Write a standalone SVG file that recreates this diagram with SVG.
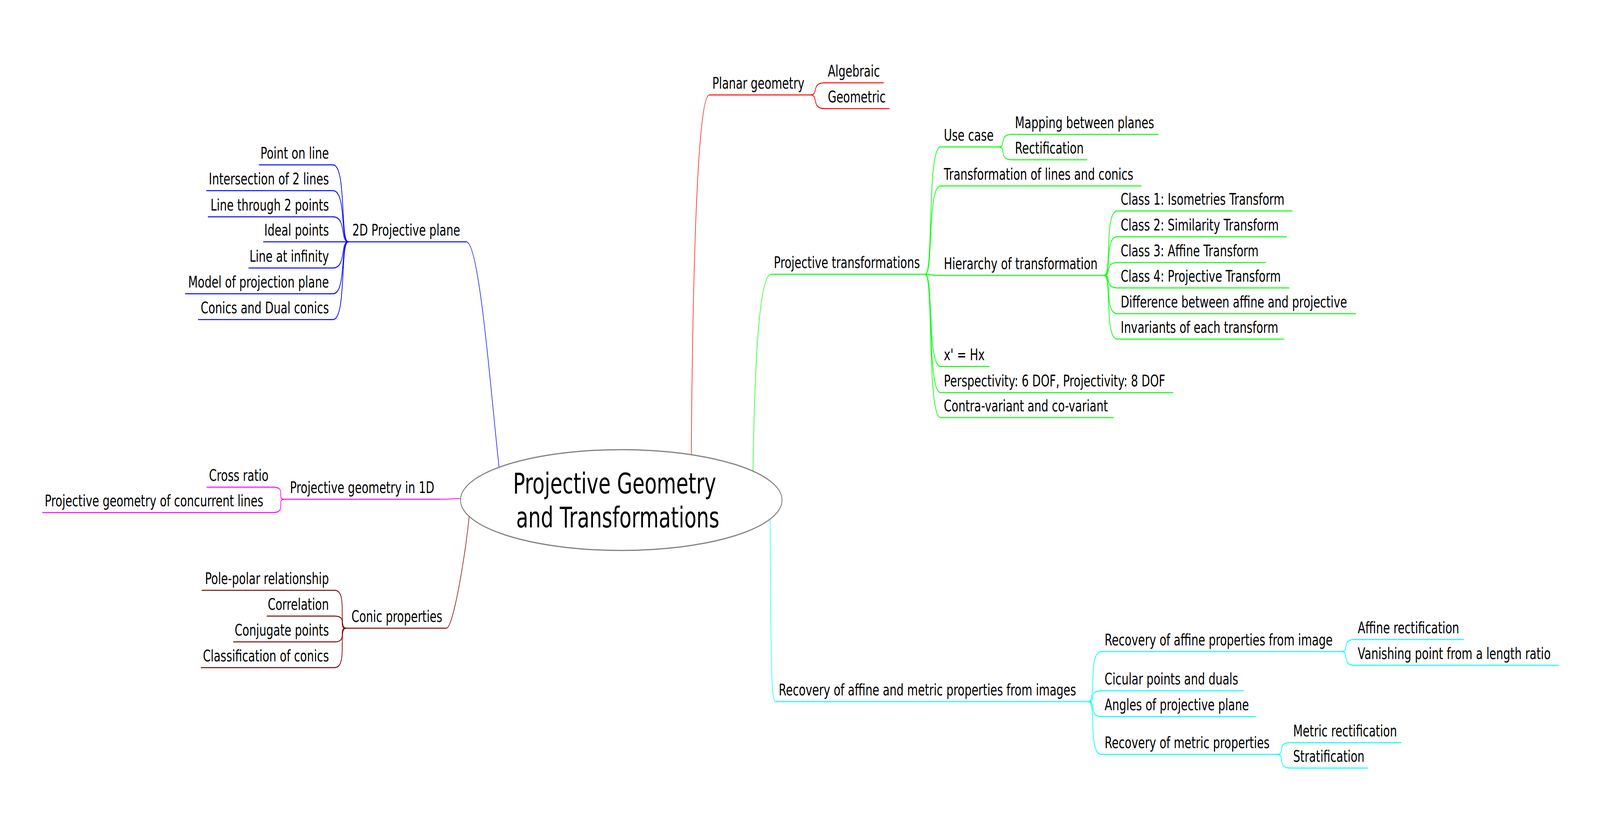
<svg xmlns="http://www.w3.org/2000/svg" width="5872" height="2122" viewBox="0 0 5872 2122" preserveAspectRatio="none">
<style>
:root{width:100vw;height:100vh}
text{font-family:"DejaVu Sans","Liberation Sans",sans-serif;font-size:40.7px;fill:#000}
text.rt{font-size:73px}
text.e{text-anchor:end}
path,line{fill:none;stroke-linecap:round}
.r{stroke:#ff0000}.g{stroke:#00ff00}.c{stroke:#00ffff}.b{stroke:#0000ff}.m{stroke:#ff00ff}.k{stroke:#800000}
#connectors path{stroke-width:2.5}
#connectors path.re{stroke-width:2}
line{stroke-width:2.5}
</style>
<rect width="5872" height="2122" fill="#fff"/>
<g id="connectors">
<path class="r re" d="M2537 1180 C2540 850 2553 243 2603 243"/>
<path class="g re" d="M2763 1215 C2768 1000 2780 702 2830 702"/>
<path class="c re" d="M2826 1320 C2830 1600 2826 1796 2846 1796"/>
<path class="b re" d="M1833 1205 C1800 1000 1760 619 1711 619"/>
<path class="m re" d="M1700 1276 C1660 1276 1656 1278 1616 1278"/>
<path class="k re" d="M1722 1320 C1712 1400 1665 1608 1638 1608"/>
<path class="r" d="M2975 243 C3005 243 2976 212 3026 212"/>
<path class="r" d="M2975 243 C3005 243 2976 278 3026 278"/>
<path class="g" d="M3396 702 C3426 702 3402 376 3452 376"/>
<path class="g" d="M3396 702 C3426 702 3402 476 3452 476"/>
<path class="g" d="M3396 702 C3426 702 3402 705 3452 705"/>
<path class="g" d="M3396 702 C3426 702 3402 938 3452 938"/>
<path class="g" d="M3396 702 C3426 702 3402 1005 3452 1005"/>
<path class="g" d="M3396 702 C3426 702 3402 1069 3452 1069"/>
<path class="g" d="M3665 376 C3695 376 3663 344 3713 344"/>
<path class="g" d="M3665 376 C3695 376 3663 409 3713 409"/>
<path class="g" d="M4052 705 C4082 705 4051 540 4101 540"/>
<path class="g" d="M4052 705 C4082 705 4051 606 4101 606"/>
<path class="g" d="M4052 705 C4082 705 4051 672 4101 672"/>
<path class="g" d="M4052 705 C4082 705 4051 737 4101 737"/>
<path class="g" d="M4052 705 C4082 705 4051 803 4101 803"/>
<path class="g" d="M4052 705 C4082 705 4051 868 4101 868"/>
<path class="c" d="M3995 1796 C4025 1796 3992 1668 4042 1668"/>
<path class="c" d="M3995 1796 C4025 1796 3992 1768 4042 1768"/>
<path class="c" d="M3995 1796 C4025 1796 3992 1834 4042 1834"/>
<path class="c" d="M3995 1796 C4025 1796 3992 1931 4042 1931"/>
<path class="c" d="M4924 1668 C4954 1668 4921 1637 4971 1637"/>
<path class="c" d="M4924 1668 C4954 1668 4921 1703 4971 1703"/>
<path class="c" d="M4688 1931 C4718 1931 4684 1901 4734 1901"/>
<path class="c" d="M4688 1931 C4718 1931 4684 1966 4734 1966"/>
<path class="b" d="M1278 619 C1248 619 1272 422 1222 422"/>
<path class="b" d="M1278 619 C1248 619 1272 488 1222 488"/>
<path class="b" d="M1278 619 C1248 619 1272 555 1222 555"/>
<path class="b" d="M1278 619 C1248 619 1272 619 1222 619"/>
<path class="b" d="M1278 619 C1248 619 1272 686 1222 686"/>
<path class="b" d="M1278 619 C1248 619 1272 752 1222 752"/>
<path class="b" d="M1278 619 C1248 619 1272 818 1222 818"/>
<path class="m" d="M1043 1278 C1013 1278 1053 1247 1003 1247"/>
<path class="m" d="M1043 1278 C1013 1278 1053 1312 1003 1312"/>
<path class="k" d="M1269 1608 C1239 1608 1278 1511 1228 1511"/>
<path class="k" d="M1269 1608 C1239 1608 1278 1577 1228 1577"/>
<path class="k" d="M1269 1608 C1239 1608 1278 1643 1228 1643"/>
<path class="k" d="M1269 1608 C1239 1608 1278 1709 1228 1709"/>
</g>
<g id="root">
<ellipse cx="2280" cy="1280" rx="590" ry="129" fill="#fff" stroke="#808080" stroke-width="3"/>
<text class="rt" x="1883" y="1263">Projective Geometry</text>
<text class="rt" x="1894" y="1350">and Transformations</text>
</g>
<g id="n-planar"><line class="r" x1="2603" y1="243" x2="2975" y2="243"/><text x="2614" y="227">Planar geometry</text></g>
<g id="n-algebraic"><line class="r" x1="3026" y1="212" x2="3242" y2="212"/><text x="3038" y="196">Algebraic</text></g>
<g id="n-geometric"><line class="r" x1="3026" y1="278" x2="3264" y2="278"/><text x="3038" y="262">Geometric</text></g>
<g id="n-projtrans"><line class="g" x1="2830" y1="702" x2="3396" y2="702"/><text x="2840" y="686">Projective transformations</text></g>
<g id="n-usecase"><line class="g" x1="3452" y1="376" x2="3665" y2="376"/><text x="3464" y="360">Use case</text></g>
<g id="n-mapping"><line class="g" x1="3713" y1="344" x2="4251" y2="344"/><text x="3725" y="328">Mapping between planes</text></g>
<g id="n-rectification"><line class="g" x1="3713" y1="409" x2="3989" y2="409"/><text x="3725" y="393">Rectification</text></g>
<g id="n-translc"><line class="g" x1="3452" y1="476" x2="4188" y2="476"/><text x="3464" y="460">Transformation of lines and conics</text></g>
<g id="n-hierarchy"><line class="g" x1="3452" y1="705" x2="4052" y2="705"/><text x="3464" y="689">Hierarchy of transformation</text></g>
<g id="n-class1"><line class="g" x1="4101" y1="540" x2="4743" y2="540"/><text x="4113" y="524">Class 1: Isometries Transform</text></g>
<g id="n-class2"><line class="g" x1="4101" y1="606" x2="4722" y2="606"/><text x="4113" y="590">Class 2: Similarity Transform</text></g>
<g id="n-class3"><line class="g" x1="4101" y1="672" x2="4645" y2="672"/><text x="4113" y="656">Class 3: Affine Transform</text></g>
<g id="n-class4"><line class="g" x1="4101" y1="737" x2="4731" y2="737"/><text x="4113" y="721">Class 4: Projective Transform</text></g>
<g id="n-difference"><line class="g" x1="4101" y1="803" x2="4975" y2="803"/><text x="4113" y="787">Difference between affine and projective</text></g>
<g id="n-invariants"><line class="g" x1="4101" y1="868" x2="4712" y2="868"/><text x="4113" y="852">Invariants of each transform</text></g>
<g id="n-xhx"><line class="g" x1="3452" y1="938" x2="3630" y2="938"/><text x="3464" y="922">x' = Hx</text></g>
<g id="n-persp"><line class="g" x1="3452" y1="1005" x2="4305" y2="1005"/><text x="3464" y="989">Perspectivity: 6 DOF, Projectivity: 8 DOF</text></g>
<g id="n-contra"><line class="g" x1="3452" y1="1069" x2="4086" y2="1069"/><text x="3464" y="1053">Contra-variant and co-variant</text></g>
<g id="n-recovery"><line class="c" x1="2846" y1="1796" x2="3995" y2="1796"/><text x="2858" y="1780">Recovery of affine and metric properties from images</text></g>
<g id="n-raffine"><line class="c" x1="4042" y1="1668" x2="4924" y2="1668"/><text x="4054" y="1652">Recovery of affine properties from image</text></g>
<g id="n-affrect"><line class="c" x1="4971" y1="1637" x2="5371" y2="1637"/><text x="4983" y="1621">Affine rectification</text></g>
<g id="n-vanishing"><line class="c" x1="4971" y1="1703" x2="5720" y2="1703"/><text x="4983" y="1687">Vanishing point from a length ratio</text></g>
<g id="n-cicular"><line class="c" x1="4042" y1="1768" x2="4564" y2="1768"/><text x="4054" y="1752">Cicular points and duals</text></g>
<g id="n-angles"><line class="c" x1="4042" y1="1834" x2="4608" y2="1834"/><text x="4054" y="1818">Angles of projective plane</text></g>
<g id="n-rmetric"><line class="c" x1="4042" y1="1931" x2="4688" y2="1931"/><text x="4054" y="1915">Recovery of metric properties</text></g>
<g id="n-metrect"><line class="c" x1="4734" y1="1901" x2="5142" y2="1901"/><text x="4746" y="1885">Metric rectification</text></g>
<g id="n-strat"><line class="c" x1="4734" y1="1966" x2="5020" y2="1966"/><text x="4746" y="1950">Stratification</text></g>
<g id="n-2d"><line class="b" x1="1278" y1="619" x2="1711" y2="619"/><text x="1293" y="603">2D Projective plane</text></g>
<g id="n-pointonline"><line class="b" x1="951" y1="422" x2="1222" y2="422"/><text class="e" x="1207" y="406">Point on line</text></g>
<g id="n-intersection"><line class="b" x1="758" y1="488" x2="1222" y2="488"/><text class="e" x="1207" y="472">Intersection of 2 lines</text></g>
<g id="n-linethrough"><line class="b" x1="764" y1="555" x2="1222" y2="555"/><text class="e" x="1207" y="539">Line through 2 points</text></g>
<g id="n-ideal"><line class="b" x1="967" y1="619" x2="1222" y2="619"/><text class="e" x="1207" y="603">Ideal points</text></g>
<g id="n-lineinf"><line class="b" x1="913" y1="686" x2="1222" y2="686"/><text class="e" x="1207" y="670">Line at infinity</text></g>
<g id="n-model"><line class="b" x1="680" y1="752" x2="1222" y2="752"/><text class="e" x="1207" y="736">Model of projection plane</text></g>
<g id="n-conics"><line class="b" x1="728" y1="818" x2="1222" y2="818"/><text class="e" x="1207" y="802">Conics and Dual conics</text></g>
<g id="n-1d"><line class="m" x1="1043" y1="1278" x2="1616" y2="1278"/><text x="1064" y="1262">Projective geometry in 1D</text></g>
<g id="n-crossratio"><line class="m" x1="759" y1="1247" x2="1003" y2="1247"/><text x="767" y="1231">Cross ratio</text></g>
<g id="n-concurrent"><line class="m" x1="156" y1="1312" x2="1003" y2="1312"/><text x="164" y="1296">Projective geometry of concurrent lines</text></g>
<g id="n-conicprop"><line class="k" x1="1269" y1="1608" x2="1638" y2="1608"/><text x="1290" y="1592">Conic properties</text></g>
<g id="n-polepolar"><line class="k" x1="741" y1="1511" x2="1228" y2="1511"/><text class="e" x="1207" y="1495">Pole-polar relationship</text></g>
<g id="n-correlation"><line class="k" x1="980" y1="1577" x2="1228" y2="1577"/><text class="e" x="1207" y="1561">Correlation</text></g>
<g id="n-conjugate"><line class="k" x1="857" y1="1643" x2="1228" y2="1643"/><text class="e" x="1207" y="1627">Conjugate points</text></g>
<g id="n-classification"><line class="k" x1="738" y1="1709" x2="1228" y2="1709"/><text class="e" x="1207" y="1693">Classification of conics</text></g>
</svg>
